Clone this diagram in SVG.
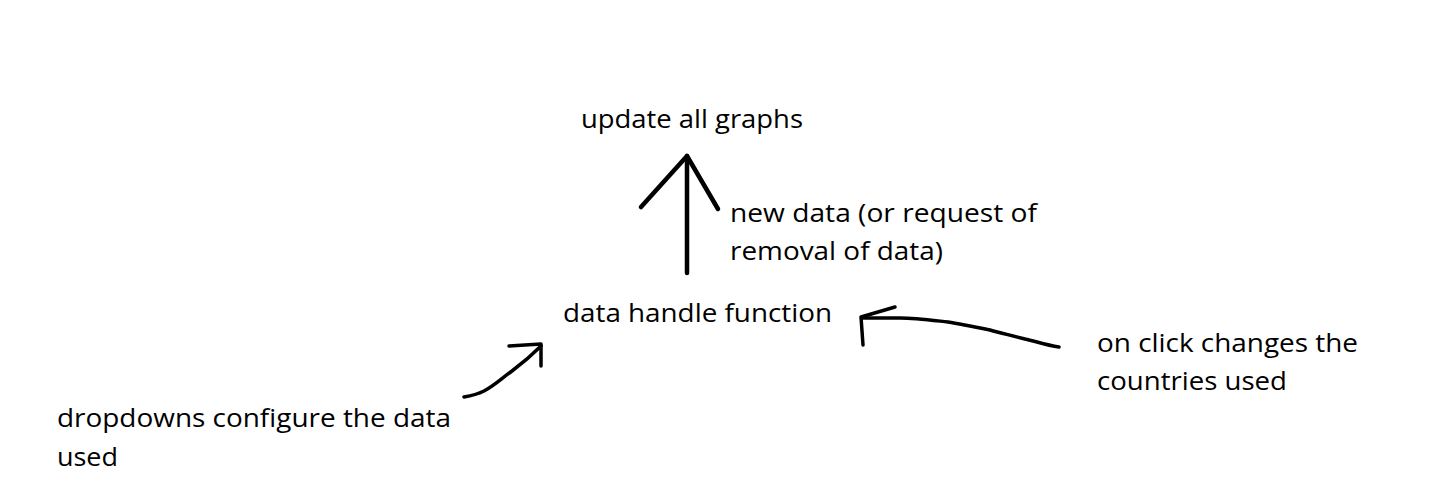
<svg xmlns="http://www.w3.org/2000/svg" width="1434" height="489" viewBox="0 0 1434 489">
<style>
text{font-family:"Open Sans","Noto Sans",sans-serif;font-size:25px;fill:#000}
.c{fill:none;stroke:#000;stroke-linecap:round;stroke-linejoin:round}
</style>
<rect width="1434" height="489" fill="#fff"/>
<g id="connectors">
<g id="arrow-up" class="c" stroke-width="4.5">
<path d="M687,273 L687,156"/>
<path d="M641,207 L687,156 L718,209"/>
</g>
<g id="arrow-left" class="c" stroke-width="3.5">
<path d="M464,397 C470,396 478,394 484,391 C495,385 502,378 512,371 C524,362 532,355 541,346"/>
<path d="M509,346 L541,344 L541,366"/>
</g>
<g id="arrow-right" class="c" stroke-width="3.5">
<path d="M1059,347 C1045,345 1035,341 1025,339 C1010,335 1000,333 990,330 C975,327 960,324 948,322 C930,320 915,318 900,318 L862,318"/>
<path d="M895,307 L861,317 L863,345"/>
</g>
</g>
<g id="node-update"><text x="581" y="128" textLength="222" lengthAdjust="spacingAndGlyphs">update all graphs</text></g>
<g id="label-newdata">
<text x="730" y="222" textLength="307" lengthAdjust="spacingAndGlyphs">new data (or request of</text>
<text x="730" y="260" textLength="213" lengthAdjust="spacingAndGlyphs">removal of data)</text>
</g>
<g id="node-handle"><text x="563" y="322" textLength="269" lengthAdjust="spacingAndGlyphs">data handle function</text></g>
<g id="node-click">
<text x="1097" y="352" textLength="261" lengthAdjust="spacingAndGlyphs">on click changes the</text>
<text x="1097" y="390" textLength="190" lengthAdjust="spacingAndGlyphs">countries used</text>
</g>
<g id="node-dropdowns">
<text x="57" y="427" textLength="394" lengthAdjust="spacingAndGlyphs">dropdowns configure the data</text>
<text x="57" y="466" textLength="61" lengthAdjust="spacingAndGlyphs">used</text>
</g>
</svg>
